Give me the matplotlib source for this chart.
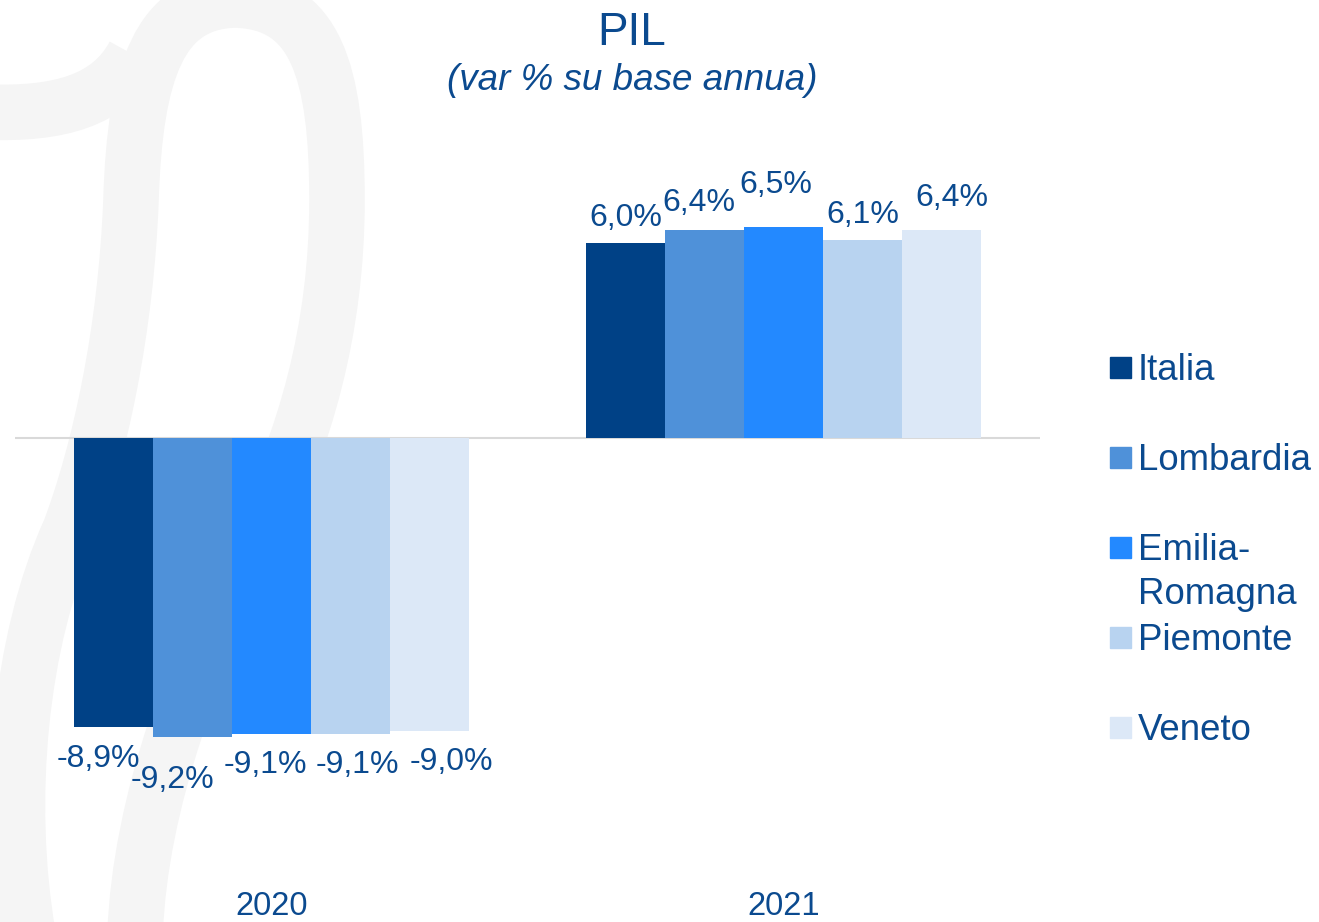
import matplotlib
matplotlib.use("Agg")
import matplotlib.pyplot as plt
from matplotlib.patches import Rectangle, PathPatch
from matplotlib.path import Path
import numpy as np

#
# Data
#

years = ["2020", "2021"]
regions = ["Italia", "Lombardia", "Emilia-Romagna", "Piemonte", "Veneto"]
legend_labels = ["Italia", "Lombardia", "Emilia-\nRomagna", "Piemonte", "Veneto"]

italia = [-8.9, 6.0]
lombardia = [-9.2, 6.4]
emilia_romagna = [-9.1, 6.5]
piemonte = [-9.1, 6.1]
veneto = [-9.0, 6.4]
series = [italia, lombardia, emilia_romagna, piemonte, veneto]

#
# Style
#

colors = ["#004186", "#4F91D9", "#2389FF", "#B8D3F0", "#DCE8F7"]
text_color = "#0B4A8F"
watermark_color = "#F5F5F5"

# Nudges (pixels) that reproduce the label placement of the original
label_nudges = [
    [(-15, 0), (0, 0)],
    [(-20, -11), (-6, 2)],
    [(-6, 0), (-8, 17)],
    [(7, 0), (0, 0)],
    [(22, 0), (10, 7)],
]

W, H = 1319, 922
plt.rcParams["font.family"] = ["Liberation Sans", "DejaVu Sans"]


def fx(x):
    return x / W


def fy(y):
    return 1 - y / H


fig = plt.figure(figsize=(W / 100, H / 100), dpi=100)
fig.patch.set_facecolor("white")

# Faint background watermark (decoration, drawn in figure pixels)
M, C = Path.MOVETO, Path.CURVE4
main_stroke = [
    (M, (28, 935)),
    (C, (5, 800)), (C, (20, 640)), (C, (70, 530)),
    (C, (100, 450)), (C, (126, 330)), (C, (131, 200)),
    (C, (135, 70)), (C, (160, 2)), (C, (235, 0)),
    (C, (315, 2)), (C, (337, 70)), (C, (337, 200)),
    (C, (337, 330)), (C, (305, 440)), (C, (255, 540)),
    (C, (195, 660)), (C, (140, 800)), (C, (135, 935)),
]
left_stroke = [
    (M, (134, 55)),
    (C, (110, 100)), (C, (60, 115)), (C, (-15, 112)),
]
for stroke in (main_stroke, left_stroke):
    codes = [c for c, _ in stroke]
    verts = [(fx(p[0]), fy(p[1])) for _, p in stroke]
    fig.add_artist(PathPatch(Path(verts, codes), fill=False, edgecolor=watermark_color,
                             lw=40, capstyle="butt", transform=fig.transFigure, zorder=-5))

#
# Bars
#

px_per_unit = 32.5
zero_px, top_px, bottom_px = 438, 150, 880
ax = fig.add_axes([fx(15), fy(bottom_px), (1040 - 15) / W, (bottom_px - top_px) / H])
ax.set_facecolor("none")

x = np.arange(len(years))
width = 79 / 512

for i, (values, color) in enumerate(zip(series, colors)):
    pos = x + (i - 2) * width
    ax.bar(pos, values, width=width, color=color, zorder=2)
    for j, v in enumerate(values):
        dx, dy = label_nudges[i][j]
        offset = 16.5 if v >= 0 else -39.5
        ax.annotate(f"{v:.1f}%".replace(".", ","), xy=(pos[j], v), xytext=(dx, offset + dy),
                    textcoords="offset pixels", ha="center", va="baseline",
                    fontsize=23, color=text_color)

ax.axhline(0, color="#D9D9D9", lw=1.5, zorder=1)
ax.set_xlim(-0.5, 1.5)
ax.set_ylim(-(bottom_px - zero_px) / px_per_unit, (zero_px - top_px) / px_per_unit)
ax.set_yticks([])
ax.set_xticks(x)
ax.set_xticklabels(years, fontsize=23.5, color=text_color)
ax.tick_params(axis="x", length=0, pad=8)
for side in ax.spines.values():
    side.set_visible(False)

#
# Titles
#

fig.text(fx(632), fy(45), "PIL", ha="center", va="baseline", fontsize=33, color=text_color)
fig.text(fx(632), fy(90), "(var % su base annua)", ha="center", va="baseline",
         fontsize=26.5, style="italic", color=text_color)

#
# Legend
#

legend_baselines = [380, 470, 560, 650, 740]
for label, color, base in zip(legend_labels, colors, legend_baselines):
    fig.add_artist(Rectangle((fx(1110), fy(base - 2)), 21 / W, 21 / H, color=color,
                             transform=fig.transFigure))
    for k, line in enumerate(label.split("\n")):
        fig.text(fx(1138), fy(base + 44 * k), line, ha="left", va="baseline",
                 fontsize=26.4, color=text_color)

fig.savefig("out.png", dpi=100, facecolor="white")
